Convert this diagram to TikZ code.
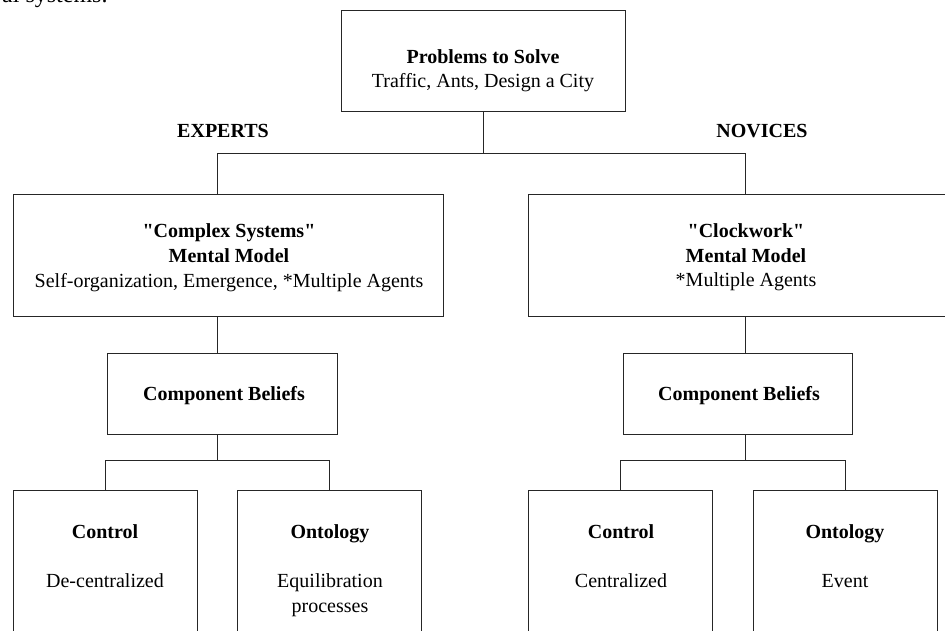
\documentclass[tikz,border=0pt]{standalone}
\usepackage{fontspec}
\setmainfont{Liberation Serif}
\newfontfamily\qfont{Liberation Serif}[Ligatures=TeXOff]
\newcommand{\sq}{{\qfont\bfseries"}}
\begin{document}
\begin{tikzpicture}[x=1pt,y=-1pt,
  box/.style={draw=black!85, line width=1pt, inner sep=0pt, fill=none},
  conn/.style={draw=black!85, line width=1pt},
  txt/.style={anchor=base, inner sep=0pt, font=\fontsize{20}{24}\selectfont},
  btxt/.style={anchor=base, inner sep=0pt, font=\fontsize{20}{24}\selectfont\bfseries}]
\useasboundingbox (0,0) rectangle (945,630);
\clip (0,0) rectangle (945,630);
\fill[white] (0,0) rectangle (945,630);

% fragment of page text cut at the top
\node[anchor=base west, inner sep=0pt, font=\fontsize{24}{28}\selectfont] (frag) at (2,2) {al systems.};

% boxes
\node[box, minimum width=284pt, minimum height=101pt] (prob) at (483,60.5) {};
\node[box, minimum width=430pt, minimum height=122pt] (cs) at (228,255) {};
\node[box, minimum width=436pt, minimum height=122pt] (cw) at (746,255) {};
\node[box, minimum width=230pt, minimum height=81pt] (cbL) at (222,393.5) {};
\node[box, minimum width=229pt, minimum height=81pt] (cbR) at (737.5,393.5) {};
\node[box, minimum width=184pt, minimum height=210pt] (ctrlL) at (105,595) {};
\node[box, minimum width=184pt, minimum height=210pt] (ontL) at (329,595) {};
\node[box, minimum width=184pt, minimum height=210pt] (ctrlR) at (620,595) {};
\node[box, minimum width=184pt, minimum height=210pt] (ontR) at (845,595) {};

% texts
\node[btxt] (t1) at (483,63) {Problems to Solve};
\node[txt] (t2) at (483,87) {Traffic, Ants, Design a City};
\node[btxt] (exp) at (223,137) {EXPERTS};
\node[btxt] (nov) at (762,137) {NOVICES};

\node[btxt] (cs1) at (229,237) {\sq Complex Systems\sq};
\node[btxt] (cs2) at (229,262) {Mental Model};
\node[txt] (cs3) at (229,287) {Self-organization, Emergence, *Multiple Agents};

\node[btxt] (cw1) at (746,237) {\sq Clockwork\sq};
\node[btxt] (cw2) at (746,262) {Mental Model};
\node[txt] (cw3) at (746,286) {*Multiple Agents};

\node[btxt] (cbLt) at (224,400) {Component Beliefs};
\node[btxt] (cbRt) at (739,400) {Component Beliefs};

\node[btxt] (ctrlLt) at (105,538) {Control};
\node[txt] (ctrlLd) at (105,587) {De-centralized};
\node[btxt] (ontLt) at (330,538) {Ontology};
\node[txt] (ontLd1) at (330,587) {Equilibration};
\node[txt] (ontLd2) at (330,612) {processes};

\node[btxt] (ctrlRt) at (621,538) {Control};
\node[txt] (ctrlRd) at (621,587) {Centralized};
\node[btxt] (ontRt) at (845,538) {Ontology};
\node[txt] (ontRd) at (845,587) {Event};

% connectors
\coordinate (busL) at (217,153);
\coordinate (busR) at (745,153);
\coordinate (jL) at (217,460);
\coordinate (jR) at (745,460);
\draw[conn] (prob.south) |- (busL) -- (busL |- cs.north);
\draw[conn] (prob.south) |- (busR) -- (busR |- cw.north);
\draw[conn] (busL |- cs.south) -- (busL |- cbL.north);
\draw[conn] (busR |- cw.south) -- (busR |- cbR.north);
\draw[conn] (jL |- cbL.south) -- (jL);
\draw[conn] (jL) -| (ctrlL.north);
\draw[conn] (jL) -| (ontL.north);
\draw[conn] (jR |- cbR.south) -- (jR);
\draw[conn] (jR) -| (ctrlR.north);
\draw[conn] (jR) -| (ontR.north);
\end{tikzpicture}
\end{document}
